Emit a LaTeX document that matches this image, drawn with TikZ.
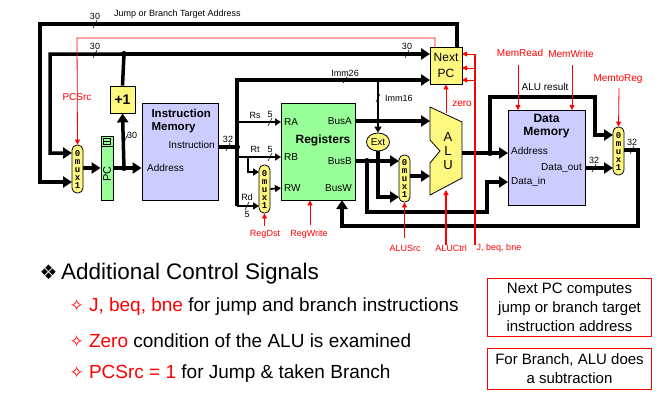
\documentclass[tikz,border=0pt]{standalone}
\usepackage{fontspec}
\setmainfont{Liberation Sans}
\setmonofont{Liberation Mono}
\newfontfamily\symfont{DejaVu Sans}
\usetikzlibrary{arrows.meta, shapes.geometric}

\tikzset{
  box/.style={draw, line width=0.8pt, inner sep=0pt, align=center},
  mux/.style={box, fill=yellow!50, rounded corners=5pt, minimum width=11pt, minimum height=48pt,
    font=\ttfamily\bfseries\fontsize{9}{9}\selectfont},
  bus/.style={line width=3.5pt, -{Triangle[length=9pt,width=11pt]}},
  wire/.style={line width=1.8pt, -{Triangle[length=6pt,width=7pt]}},
  ctl/.style={red, line width=0.8pt, -{Triangle[length=5pt,width=5pt]}},
  lbl/.style={font=\fontsize{9}{10}\selectfont, inner sep=1pt},
  rlbl/.style={lbl, red},
}
\newcommand{\muxtxt}{0\\[-1pt]m\\[-1pt]u\\[-1pt]x\\[-1pt]1}
\newcommand{\bwidth}[4][above]{%
  \draw[line width=0.6pt] (#2-2,#3+4) -- (#2+2,#3-4);
  \node[lbl, #1] at (#2,#3-3) {#4};}

\begin{document}
\begin{tikzpicture}[x=1pt, y=-1pt]
\useasboundingbox (0,0) rectangle (672,405);

% blocks
\node[mux] (mux0) at (77.5,169) {\muxtxt};
\node[box, fill=green!40, minimum width=12pt, minimum height=64pt] (pc) at (107,168) {};
\node[rotate=90, font=\fontsize{11}{11}\selectfont] at (107,174) {PC};
\draw[line width=0.6pt, fill=green!40] (101,136) rectangle (113,146);
\draw[line width=0.5pt] (103.5,138) rectangle (110.5,144) (103.5,141) -- (110.5,141);
\node[box, fill=yellow!50, minimum width=25pt, minimum height=27pt, font=\fontsize{14}{14}\selectfont\bfseries] (inc) at (122.5,99.5) {+1};
\node[box, fill=blue!20, minimum width=76pt, minimum height=97pt] (imem) at (180,151.5) {};
\node[font=\fontsize{11.5}{13}\selectfont\bfseries, align=left, anchor=north west] at (148,106) {Instruction\\Memory};
\node[lbl, anchor=east, font=\fontsize{10}{10}\selectfont] at (216,145) {Instruction};
\node[lbl, anchor=west, font=\fontsize{10}{10}\selectfont] at (146,168) {Address};
\node[box, fill=green!40, minimum width=74pt, minimum height=97pt] (regs) at (318,151.5) {};
\node[font=\fontsize{12}{12}\selectfont\bfseries] at (323,140) {Registers};
\foreach \t/\y in {RA/122, RB/157, RW/188} \node[lbl, anchor=west, font=\fontsize{10}{10}\selectfont] at (283,\y) {\t};
\foreach \t/\y in {BusA/121, BusB/161, BusW/188} \node[lbl, anchor=east, font=\fontsize{10}{10}\selectfont] at (353,\y) {\t};
\node[mux] (muxd) at (264.5,189) {\muxtxt};
\node[box, ellipse, fill=yellow!50, minimum width=23pt, minimum height=18pt, font=\fontsize{10}{10}\selectfont] (ext) at (378,142) {Ext};
\node[mux, minimum height=47pt] (muxa) at (404.5,178.5) {\muxtxt};
\draw[line width=0.8pt, fill=yellow!50] (430,107) -- (462,122) -- (462,178) -- (430,195) -- (430,163) -- (440,151) -- (430,140) -- cycle;
\node[align=center, font=\fontsize{13}{14}\selectfont] (alu) at (448,151) {A\\L\\U};
\node[box, fill=yellow!50, minimum width=32pt, minimum height=37pt, font=\fontsize{12}{16}\selectfont] (npc) at (446,65.5) {Next\\PC};
\node[box, fill=blue!20, minimum width=77pt, minimum height=95pt] (dmem) at (546.5,157.5) {};
\node[font=\fontsize{12}{13}\selectfont\bfseries, align=center] at (546.5,126) {Data\\Memory};
\node[lbl, anchor=west, font=\fontsize{10}{10}\selectfont] at (510,151) {Address};
\node[lbl, anchor=east, font=\fontsize{10}{10}\selectfont] at (583,168) {Data\_out};
\node[lbl, anchor=west, font=\fontsize{10}{10}\selectfont] at (510,182) {Data\_in};
\node[mux] (muxm) at (618.5,151) {\muxtxt};

% buses
\draw[bus] (457,47) -- (457,24) -- (40,24) -- (40,182) -- (72,182);
\bwidth{95}{24}{30}
\node[lbl, anchor=west] at (113,14) {Jump or Branch Target Address};
\draw[bus] (124,54) -- (430,54);
\draw[bus] (inc.north) -- (124,54) -- (50,54) -- (50,153) -- (72,153);
\fill (124,54) circle (3pt);
\bwidth{95}{54}{30}
\bwidth{407}{54}{30}
\draw[bus] (83,168) -- (pc.west);
\draw[bus] (pc.east) -- (imem.west |- pc.east);
\draw[bus] (124,168) -- (inc.south);
\fill (124,168) circle (3pt);
\bwidth[right]{126}{138}{30}
\draw[bus, -] (imem.east |- 0,147) -- (237,147);
\fill (237,147) circle (3pt);
\bwidth{228}{147}{32}
\draw[bus] (237,206) -- (237,80) -- (430,80);
\node[lbl] at (345,73) {Imm26};
\draw[line width=0.6pt] (343,83) -- (347,77);
\draw[wire] (237,122) -- (281,122);
\bwidth{270}{122}{5}
\node[lbl] at (255,115) {Rs};
\draw[wire] (237,157) -- (281,157);
\bwidth{270}{157}{5}
\node[lbl] at (255,149) {Rt};
\draw[wire] (248,157) |- (259,172);
\draw[wire] (237,206) -- (259,206);
\node[lbl] at (247,197) {Rd};
\draw[line width=0.6pt] (245,210) -- (249,202);
\node[lbl] at (247,214) {5};
\draw[wire] (muxd.east) -- (281,188);
\draw[wire] (378,80) -- (ext.north);
\draw[line width=0.6pt] (376,102) -- (380,94);
\node[lbl, anchor=west] at (384,98) {Imm16};
\draw[bus] (ext.south) -- (378,197) -- (399,197);
\draw[bus] (355,121) -- (430,121);
\draw[bus] (355,161) -- (399,161);
\draw[bus] (367,161) -- (367,212) -- (487,212) -- (487,182) -- (508,182);
\fill (367,161) circle (3pt);
\draw[bus] (muxa.east |- 0,176) -- (430,176);
\draw[bus] (462,153) -- (508,153);
\draw[bus] (490,153) -- (490,97) -- (595,97) -- (595,135) -- (613,135);
\fill (490,153) circle (3pt);
\node[lbl, font=\fontsize{10}{10}\selectfont] at (545,87) {ALU result};
\draw[bus] (585,168) -- (613,168);
\bwidth{594}{168}{32}
\draw[bus] (624,150) -- (638,150) -- (638,226) -- (342,226) -- (342,200);
\bwidth{632}{150}{32}

% control
\draw[ctl] (435,47) -- (435,38) -- (77,38) -- (mux0.north);
\node[rlbl, font=\fontsize{10}{10}\selectfont] at (77,97) {PCSrc};
\draw[ctl] (446,113) -- (npc.south);
\node[rlbl, font=\fontsize{10}{10}\selectfont] at (462,104) {zero};
\draw[ctl, line width=1.5pt] (446,245) -- (446,190);
\draw[red, line width=1.5pt] (475,245) -- (475,54);
\foreach \y in {54,68,80} \draw[ctl] (475,\y) -- (462,\y);
\draw[ctl] (404.5,238) -- (muxa.south);
\draw[ctl] (264.5,226) -- (muxd.south);
\draw[ctl] (310,225) -- (regs.south -| 310,0);
\draw[ctl] (518,65) -- (518,110);
\draw[ctl] (572,65) -- (572,110);
\draw[ctl] (619,88) -- (muxm.north);
\node[rlbl] at (265,234) {RegDst};
\node[rlbl] at (309,234) {RegWrite};
\node[rlbl] at (405,248) {ALUSrc};
\node[rlbl] at (451,248) {ALUCtrl};
\node[rlbl] at (499,248) {J, beq, bne};
\node[rlbl, font=\fontsize{10}{10}\selectfont] at (520,53) {MemRead};
\node[rlbl, font=\fontsize{10}{10}\selectfont] at (571,54) {MemWrite};
\node[rlbl, font=\fontsize{10}{10}\selectfont] at (618,79) {MemtoReg};

% text
\node[anchor=west, font=\fontsize{22.5}{24}\selectfont] at (36,274) {{\symfont\fontsize{20}{20}\selectfont ❖}\,Additional Control Signals};
\node[anchor=west, font=\fontsize{19}{20}\selectfont] at (66,307) {\textcolor{red}{{\symfont\fontsize{17}{17}\selectfont ✧} J, beq, bne} for jump and branch instructions};
\node[anchor=west, font=\fontsize{19}{20}\selectfont] at (66,341) {\textcolor{red}{{\symfont\fontsize{17}{17}\selectfont ✧} Zero} condition of the ALU is examined};
\node[anchor=west, font=\fontsize{19}{20}\selectfont] at (66,374) {\textcolor{red}{{\symfont\fontsize{17}{17}\selectfont ✧} PCSrc = 1} for Jump \& taken Branch};
\node[draw=red, line width=0.8pt, minimum width=164pt, minimum height=58pt, align=center, font=\fontsize{15}{19}\selectfont] (note1) at (569.5,307.5) {Next PC computes\\jump or branch target\\instruction address};
\node[draw=red, line width=0.8pt, minimum width=164pt, minimum height=41pt, align=center, font=\fontsize{15}{19}\selectfont] (note2) at (569.5,368.5) {For Branch, ALU does\\a subtraction};
\end{tikzpicture}
\end{document}
